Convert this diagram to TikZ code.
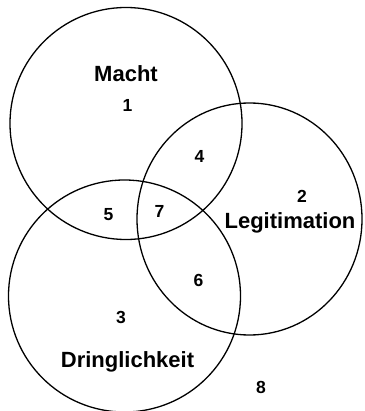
\documentclass[tikz,border=0pt]{standalone}
\usepackage{fontspec}
\setmainfont{Liberation Sans}
\begin{document}
\begin{tikzpicture}[x=1pt,y=-1pt,
  ring/.style={draw=black,line width=1.3pt},
  lbl/.style={font=\fontsize{22}{26}\selectfont\bfseries,anchor=base,inner sep=0pt},
  num/.style={font=\fontsize{17.5}{21}\selectfont\bfseries,anchor=base,inner sep=0pt}]
\useasboundingbox (0,0) rectangle (364,411);
\draw[ring] (126,123.5) circle[radius=116];
\draw[ring] (249.5,219) ellipse[x radius=112.5,y radius=116];
\draw[ring] (124.5,296) circle[radius=116];
\node[lbl] (macht) at (126,82) {Macht};
\node[num] (n1) at (127.5,112) {1};
\node[num] (n2) at (302,203) {2};
\node[lbl] (legit) at (290,228) {Legitimation};
\node[num] (n4) at (199.5,163) {4};
\node[num] (n5) at (108.5,220) {5};
\node[num] (n7) at (159.5,217) {7};
\node[num] (n6) at (198.5,286) {6};
\node[num] (n3) at (121,323) {3};
\node[lbl] (dring) at (127.5,367) {Dringlichkeit};
\node[num] (n8) at (261,393) {8};
\end{tikzpicture}
\end{document}
